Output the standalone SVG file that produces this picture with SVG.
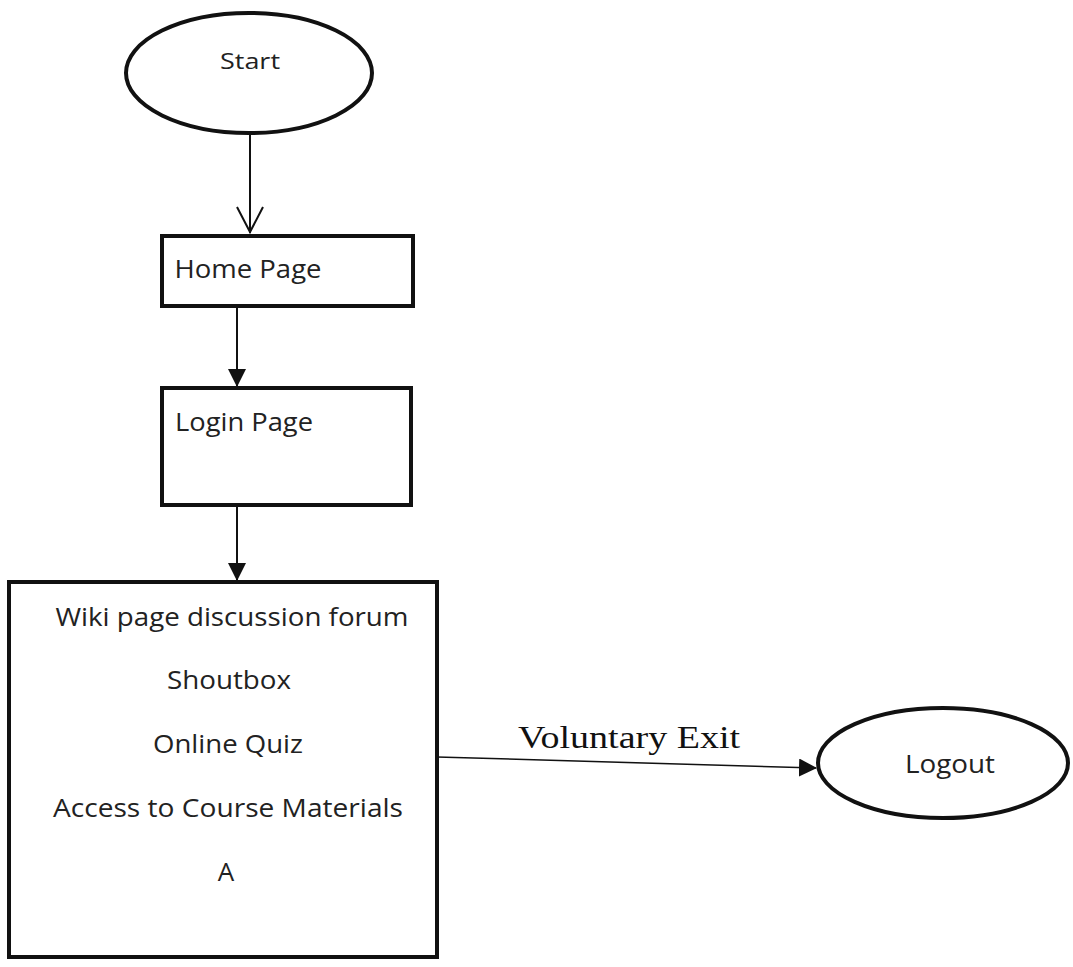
<svg xmlns="http://www.w3.org/2000/svg" width="1073" height="967" viewBox="0 0 1073 967">
<style>
.box{fill:#fff;stroke:#111;stroke-width:4}
.t{font-family:"Open Sans","Liberation Sans",sans-serif;fill:#222;text-anchor:middle}
.c{stroke:#111;stroke-width:2;fill:none}
.lbl{font-family:"Liberation Serif",serif;fill:#111;text-anchor:middle}
</style>
<defs>
<marker id="tri" markerWidth="18" markerHeight="18" refX="17" refY="9" orient="auto" markerUnits="userSpaceOnUse" viewBox="0 0 18 18">
<path d="M0,0 L18,9 L0,18 z" fill="#111"/>
</marker>
</defs>
<rect width="1073" height="967" fill="#fff"/>
<g id="connectors">
<line class="c" x1="250" y1="133" x2="250" y2="233"/>
<path class="c" d="M237,207 L250,232 L263,207" stroke-width="2.5"/>
<line class="c" x1="237" y1="307" x2="237" y2="386" marker-end="url(#tri)"/>
<line class="c" x1="237" y1="505" x2="237" y2="580" marker-end="url(#tri)"/>
<line class="c" x1="437" y1="757" x2="816" y2="768" marker-end="url(#tri)" style="stroke-width:1.5"/>
<text class="lbl" x="629" y="748" font-size="32" textLength="222" lengthAdjust="spacingAndGlyphs">Voluntary Exit</text>
</g>
<g id="start">
<ellipse class="box" cx="249" cy="73" rx="123" ry="60"/>
<text class="t" x="250" y="69" font-size="22" textLength="60" lengthAdjust="spacingAndGlyphs">Start</text>
</g>
<g id="home">
<rect class="box" x="162" y="236" width="251" height="70"/>
<text class="t" x="248" y="278" font-size="26" textLength="147" lengthAdjust="spacingAndGlyphs">Home Page</text>
</g>
<g id="login">
<rect class="box" x="162" y="388" width="249" height="117"/>
<text class="t" x="244" y="431" font-size="26" textLength="138" lengthAdjust="spacingAndGlyphs">Login Page</text>
</g>
<g id="main">
<rect class="box" x="9" y="582" width="428" height="375"/>
<text class="t" x="232" y="626" font-size="26" textLength="353" lengthAdjust="spacingAndGlyphs">Wiki page discussion forum</text>
<text class="t" x="229" y="689" font-size="26" textLength="124" lengthAdjust="spacingAndGlyphs">Shoutbox</text>
<text class="t" x="228" y="753" font-size="26" textLength="150" lengthAdjust="spacingAndGlyphs">Online Quiz</text>
<text class="t" x="228" y="817" font-size="26" textLength="350" lengthAdjust="spacingAndGlyphs">Access to Course Materials</text>
<text class="t" x="226" y="881" font-size="26">A</text>
</g>
<g id="logout">
<ellipse class="box" cx="943" cy="763" rx="125" ry="55"/>
<text class="t" x="950" y="773" font-size="26" textLength="90" lengthAdjust="spacingAndGlyphs">Logout</text>
</g>
</svg>
